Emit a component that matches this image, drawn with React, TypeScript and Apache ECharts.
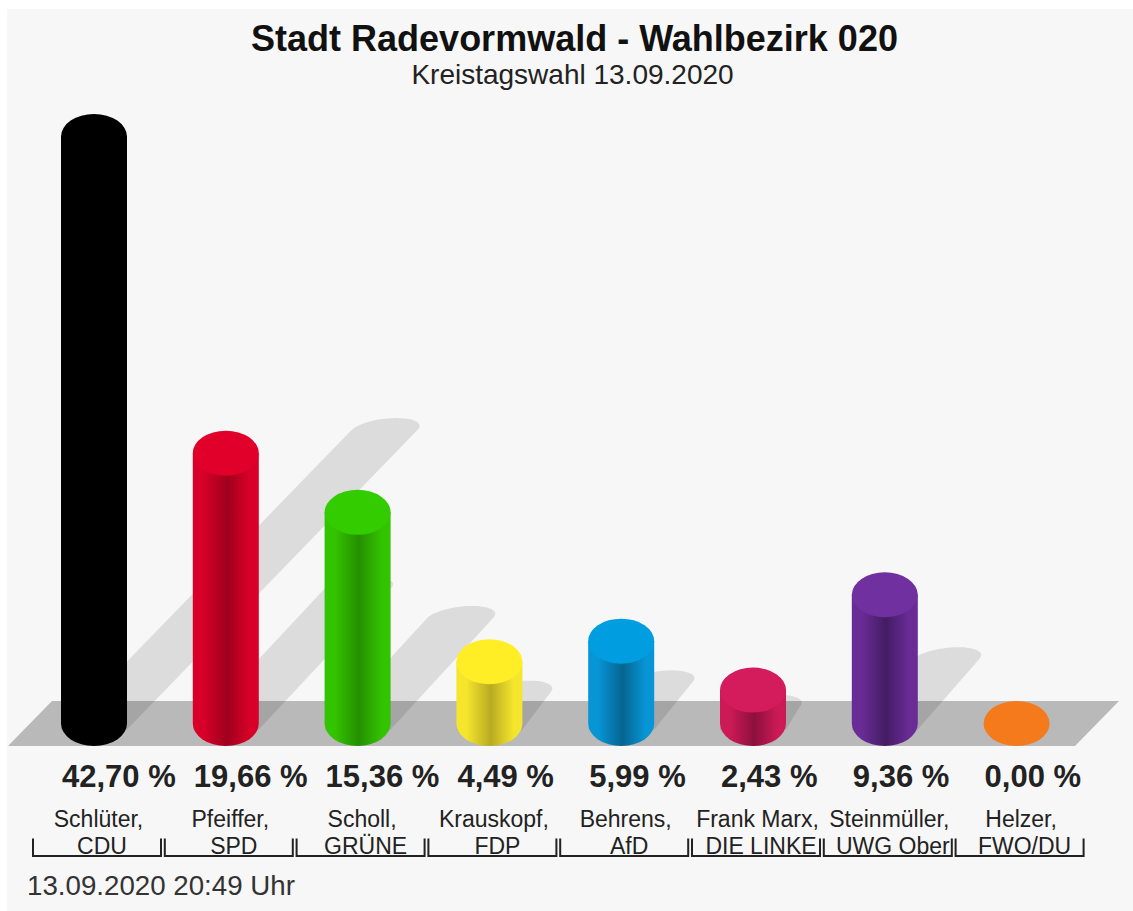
import React, { useEffect, useRef } from "react";
import * as echarts from "echarts";

const titleText = "Stadt Radevormwald - Wahlbezirk 020";
const subtitleText = "Kreistagswahl 13.09.2020";
const dateText = "13.09.2020 20:49 Uhr";
const categories = [
  "Schlüter,\nCDU",
  "Pfeiffer,\nSPD",
  "Scholl,\nGRÜNE",
  "Krauskopf,\nFDP",
  "Behrens,\nAfD",
  "Frank Marx,\nDIE LINKE",
  "Steinmüller,\nUWG Ober",
  "Helzer,\nFWO/DU",
];
const shares = [42.7, 19.66, 15.36, 4.49, 5.99, 2.43, 9.36, 0.0];
const capColors = ["#000000", "#e0002a", "#33cc00", "#ffee26", "#009ee0", "#d41b5c", "#7030a0", "#f47a1c"];
const edgeColors = ["#000000", "#d80028", "#33c400", "#f5e52c", "#0795d6", "#cc1a56", "#692c96", "#f47a1c"];
const coreColors = ["#000000", "#a0001e", "#258f00", "#b8ab22", "#066590", "#8c103c", "#451c63", "#f47a1c"];

const RX = 33;
const RY = 22.5;
const FONT = "'Liberation Sans', Arial, sans-serif";

function ellipsePath(cx: number, cy: number) {
  return `M${cx - RX} ${cy}A${RX} ${RY} 0 1 1 ${cx + RX} ${cy}A${RX} ${RY} 0 1 1 ${cx - RX} ${cy}Z`;
}

function renderShadow(_: any, api: any) {
  const i = api.value(0);
  const base = api.coord([i, 0]);
  const top = api.coord([i, api.value(1)]);
  const h = base[1] - top[1];
  if (h < 1) return { type: "group", children: [] };
  const cx = base[0] + h / 2 - 3;
  const cy = base[1] - h / 2;
  const pts: number[][] = [];
  pts.push([base[0] - RX, base[1] + 6]);
  pts.push([base[0], base[1] + 22]);
  pts.push([base[0] + RX, base[1] + 6]);
  for (let d = 0; d <= 180; d += 10) {
    const t = (d * Math.PI) / 180;
    pts.push([cx + RX * Math.cos(t) + 12 * Math.sin(t), cy - 12 * Math.sin(t)]);
  }
  return { type: "polygon", shape: { points: pts }, style: { fill: "rgba(0,0,0,0.105)" } };
}

function renderBar(_: any, api: any) {
  const i = api.value(0);
  const base = api.coord([i, 0]);
  const top = api.coord([i, api.value(1)]);
  const cx = base[0];
  const children: any[] = [];
  if (base[1] - top[1] >= 1) {
    children.push({
      type: "path",
      shape: {
        pathData: `M${cx - RX} ${top[1]}L${cx - RX} ${base[1]}A${RX} ${RY} 0 0 0 ${cx + RX} ${base[1]}L${cx + RX} ${top[1]}Z`,
        layout: "cover",
        x: cx - RX,
        y: top[1],
        width: RX * 2,
        height: base[1] + RY - top[1],
      },
      style: {
        fill: {
          type: "linear", x: 0, y: 0, x2: 1, y2: 0,
          colorStops: [
            { offset: 0, color: edgeColors[i] },
            { offset: 0.15, color: edgeColors[i] },
            { offset: 0.52, color: coreColors[i] },
            { offset: 0.87, color: edgeColors[i] },
            { offset: 1, color: edgeColors[i] },
          ],
        },
      },
    });
  }
  children.push({
    type: "path",
    shape: {
      pathData: ellipsePath(cx, top[1]),
      layout: "cover",
      x: cx - RX,
      y: top[1] - RY,
      width: RX * 2,
      height: RY * 2,
    },
    style: { fill: capColors[i] },
  });
  children.push({
    type: "text",
    style: {
      x: cx - RX + 1,
      y: base[1] + 53,
      text: shares[i].toFixed(2).replace(".", ",") + " %",
      font: `bold 31px ${FONT}`,
      fill: "#222222",
      align: "left",
      verticalAlign: "middle",
    },
  });
  return { type: "group", children };
}

function renderBracket(_: any, api: any) {
  const base = api.coord([api.value(0), 0]);
  const l = base[0] - 61;
  const r = base[0] + 67;
  const y0 = base[1] + 115;
  const y1 = base[1] + 132.5;
  return {
    type: "polyline",
    shape: { points: [[l, y0], [l, y1], [r, y1], [r, y0]] },
    style: { fill: "none", stroke: "#222222", lineWidth: 2 },
  };
}

export default function App() {
  const ref = useRef<HTMLDivElement>(null);
  useEffect(() => {
    const chart = echarts.init(ref.current!, undefined, { renderer: "svg" });
    const data = shares.map((v, i) => [i, v]);
    chart.setOption({
      animation: false,
      backgroundColor: "#ffffff",
      tooltip: { show: false },
      title: [
        {
          text: titleText, left: 569.5, top: 15, textAlign: "center",
          textStyle: { fontFamily: FONT, fontSize: 36, fontWeight: "bold", color: "#111111" },
        },
        {
          text: subtitleText, left: 567.5, top: 55, textAlign: "center",
          textStyle: { fontFamily: FONT, fontSize: 28, fontWeight: "normal", color: "#222222" },
        },
      ],
      graphic: [
        { type: "rect", z: -10, shape: { x: 7, y: 9, width: 1126, height: 902 }, style: { fill: "#f7f7f7" } },
        {
          type: "polygon", z: -9,
          shape: { points: [[8, 746], [52, 701], [1119, 701], [1075, 746]] },
          style: { fill: "#b9b9b9" },
        },
        {
          type: "text", z: 5, x: 27, y: 885,
          style: { text: dateText, font: `27.7px ${FONT}`, fill: "#333333", align: "left", verticalAlign: "middle" },
        },
      ],
      grid: { left: 28.1, top: 136.5, width: 1054.4, height: 587, containLabel: false },
      xAxis: {
        type: "category",
        data: categories,
        axisLine: { show: false },
        axisTick: { show: false },
        axisLabel: {
          interval: 0,
          margin: 82,
          hideOverlap: false,
          formatter: (v: string) => {
            const [a, b] = v.split("\n");
            return `{a|${a}}\n{b|${b}}`;
          },
          rich: {
            a: { fontFamily: FONT, fontSize: 23, color: "#222222", lineHeight: 27, padding: [0, 0, 0, 9] },
            b: { fontFamily: FONT, fontSize: 23, color: "#222222", lineHeight: 27, padding: [0, 0, 0, 16] },
          },
        },
      },
      yAxis: { type: "value", min: 0, max: 42.7, show: false, splitLine: { show: false } },
      series: [
        { type: "custom", name: "Schatten", z: 1, data, renderItem: renderShadow, encode: { x: 0, y: 1 }, silent: true },
        { type: "custom", name: "Klammern", z: 2, data, renderItem: renderBracket, encode: { x: 0, y: 1 }, silent: true },
        { type: "custom", name: "Anteil", z: 3, data, renderItem: renderBar, encode: { x: 0, y: 1 }, silent: true },
      ],
    });
    return () => chart.dispose();
  }, []);
  return <div ref={ref} style={{ position: "absolute", left: 0, top: 0, width: 1133, height: 911 }} />;
}
